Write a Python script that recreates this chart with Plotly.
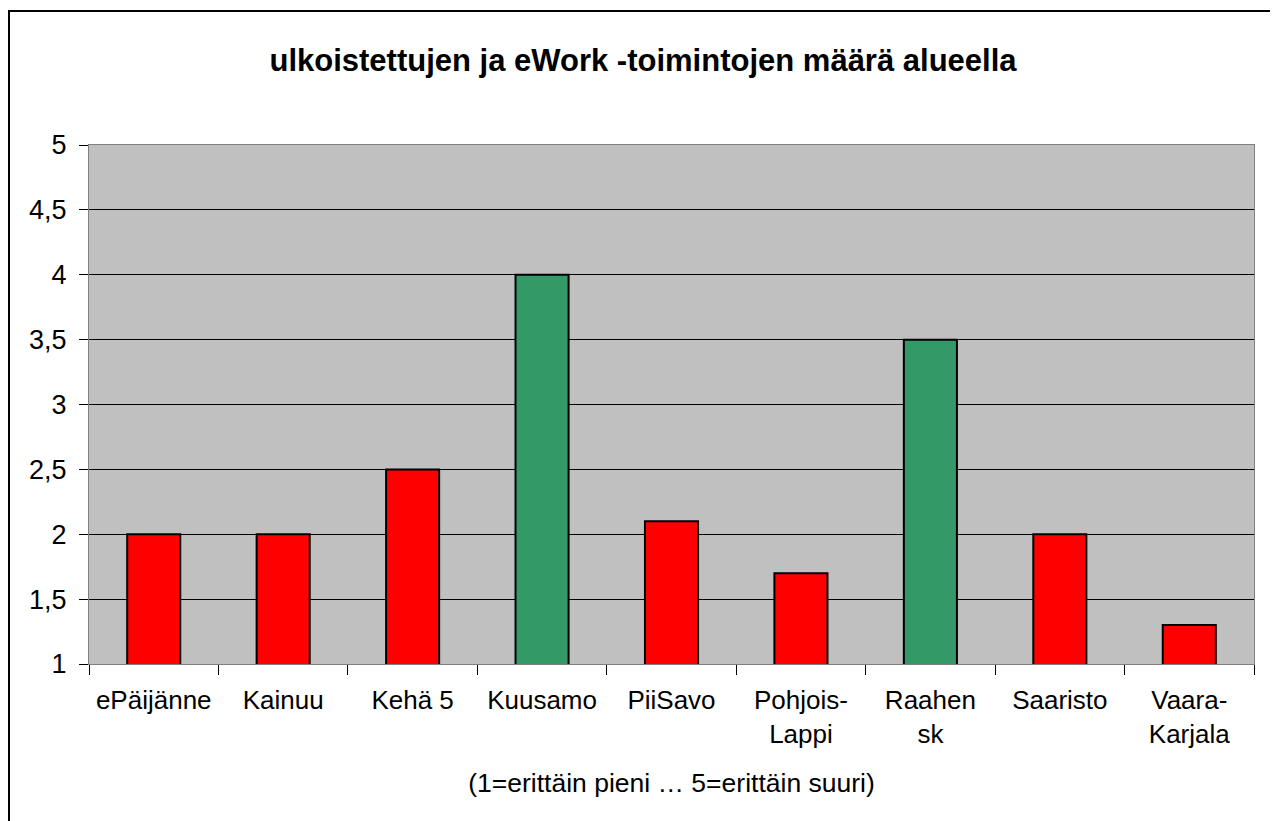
import plotly.graph_objects as go

# data
regions = ["ePäijänne", "Kainuu", "Kehä 5", "Kuusamo", "PiiSavo",
           "Pohjois-<br>Lappi", "Raahen<br>sk", "Saaristo", "Vaara-<br>Karjala"]
values = [2.0, 2.0, 2.5, 4.0, 2.1, 1.7, 3.5, 2.0, 1.3]
bar_colors = ["#FF0000", "#FF0000", "#FF0000", "#339966", "#FF0000",
              "#FF0000", "#339966", "#FF0000", "#FF0000"]
y_ticks = [1, 1.5, 2, 2.5, 3, 3.5, 4, 4.5, 5]

W, H = 1270, 813          # page body has an 8px margin
L, R, T, B = 81, 24, 137, 157
pw, ph = W - L - R, H - T - B

fig = go.Figure()
fig.add_trace(go.Bar(
    x=regions, y=values, base=0,
    marker=dict(color=bar_colors, line=dict(color="black", width=2)),
    width=0.41,
))

fig.update_layout(
    width=W, height=H,
    margin=dict(l=L, r=R, t=T, b=B),
    paper_bgcolor="white",
    plot_bgcolor="#C0C0C0",
    separators=", ",
    font=dict(family="Liberation Sans, Arial", size=22, color="black"),
    title=dict(text="<b>ulkoistettujen ja eWork -toimintojen määrä alueella</b>",
               x=0.5, xanchor="center", y=0.936, yanchor="middle",
               font=dict(size=31)),
    showlegend=False,
)

fig.update_yaxes(
    range=[1, 5], tickvals=y_ticks,
    showgrid=True, gridcolor="black", gridwidth=1,
    ticks="outside", ticklen=9, tickcolor="black",
    ticklabelstandoff=7,
    tickfont=dict(size=27),
    showline=True, linecolor="#808080", linewidth=1, mirror=True,
    zeroline=False,
)
fig.update_xaxes(
    ticks="outside", tickson="boundaries", ticklen=10, tickcolor="black",
    tickfont=dict(size=26),
    ticklabelstandoff=13,
    showline=True, linecolor="#808080", linewidth=1, mirror=True,
    showgrid=False,
    title=dict(text="(1=erittäin pieni … 5=erittäin suuri)", standoff=25,
               font=dict(size=26.5)),
)

# outer chart frame
fig.add_shape(type="rect", xref="paper", yref="paper",
              x0=(1 - L) / pw, x1=(1267 - L) / pw,
              y0=-(830 - (H - B)) / ph, y1=((H - B) - 3) / ph,
              line=dict(color="black", width=2), fillcolor="rgba(0,0,0,0)",
              layer="above")

fig.write_html("out.html")
